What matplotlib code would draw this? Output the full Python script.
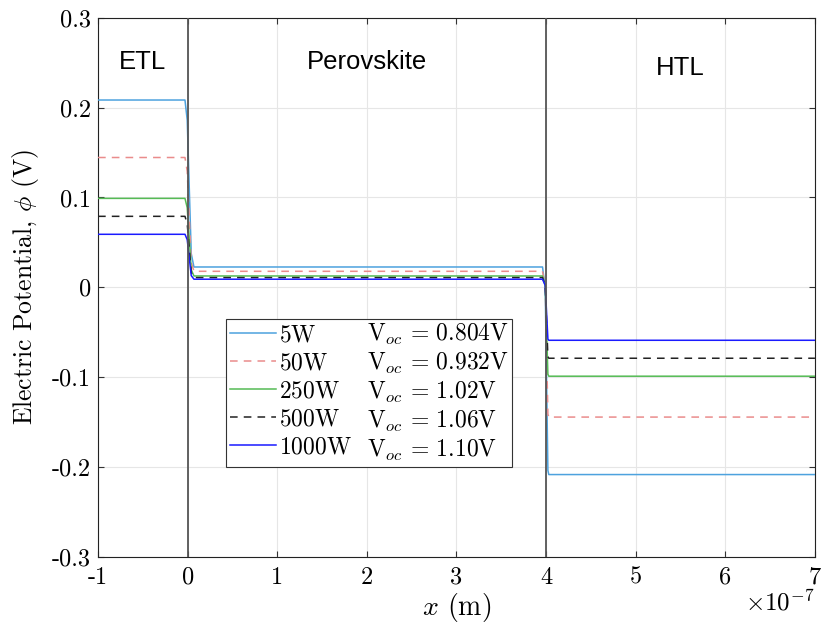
import numpy as np
import matplotlib
matplotlib.use("Agg")
import matplotlib.pyplot as plt
from matplotlib.lines import Line2D

plt.rcParams['mathtext.fontset'] = 'cm'
plt.rcParams['axes.unicode_minus'] = False

# Irradiance cases and plateau potentials (V) in each layer
powers = ["5W", "50W", "250W", "500W", "1000W"]
voc_labels = ["0.804", "0.932", "1.02", "1.06", "1.10"]
phi_etl = [0.2085, 0.1445, 0.0990, 0.0790, 0.0590]
phi_pvk = [0.0226, 0.0178, 0.0126, 0.0108, 0.0090]
phi_htl = [-0.2085, -0.1445, -0.0990, -0.0790, -0.0590]

# Layer boundaries (units of 1e-7 m)
x_min, x_etl_pvk, x_pvk_htl, x_max = -1.0, 0.0, 4.0, 7.0

colors = ["#4da2de", "#ea8c8c", "#55bb55", "#222222", "#1a1aff"]
styles = ["-", (0, (5, 4)), "-", (0, (5, 4)), "-"]

fig = plt.figure(figsize=(8.24, 6.37), dpi=100)
ax = fig.add_axes([0.119, 0.126, 0.870, 0.846])

for i in range(len(powers)):
    xs = [x_min, x_etl_pvk - 0.03, x_etl_pvk - 0.005, x_etl_pvk + 0.04,
          x_etl_pvk + 0.07, x_pvk_htl - 0.04, x_pvk_htl - 0.01,
          x_pvk_htl + 0.02, x_pvk_htl + 0.03, x_max]
    a, b, c = phi_etl[i], phi_pvk[i], phi_htl[i]
    ys = [a, a, a - 0.12 * (a - b), b + 0.08 * (a - b), b,
          b, b - 0.1 * (b - c), c + 0.02 * (b - c), c, c]
    ax.plot(xs, ys, color=colors[i], linestyle=styles[i], lw=1.1, zorder=3)

ax.axvline(x_etl_pvk, color="#555555", lw=1.3, zorder=4)
ax.axvline(x_pvk_htl, color="#555555", lw=1.3, zorder=4)

ax.set_xlim(-1, 7)
ax.set_ylim(-0.3, 0.3)
xt = np.arange(-1, 8)
yt = np.round(np.arange(-0.3, 0.31, 0.1), 1)
ax.set_xticks(xt)
ax.set_yticks(yt)
ax.set_xticklabels([f"{v:d}" for v in xt], fontfamily="cmr10", fontsize=17.5)
ax.set_yticklabels(["0" if v == 0 else f"{v:.1f}" for v in yt],
                   fontfamily="cmr10", fontsize=17.5)
ax.grid(True, color="#e6e6e6", lw=0.8, zorder=0)
ax.tick_params(direction="in", length=4, width=0.8, color="#333333",
               top=True, right=True)
ax.tick_params(axis="x", pad=7)
ax.tick_params(axis="y", pad=5)
for s in ax.spines.values():
    s.set_color("#222222")
    s.set_linewidth(0.8)

ax.set_ylabel(r"Electric Potential, $\phi$ (V)", fontfamily="cmr10",
              fontsize=18.5, labelpad=8)
ax.set_xlabel(r"$x$ (m)", fontfamily="cmr10", fontsize=20, labelpad=2)
ax.text(1.0, -0.06, r"$\times10^{-7}$", transform=ax.transAxes,
        ha="right", va="top", fontsize=18)

ax.text(-0.5, 0.251, "ETL", fontfamily="Liberation Sans", fontsize=18.5,
        ha="center", va="center")
ax.text(2.0, 0.251, "Perovskite", fontfamily="Liberation Sans", fontsize=18.5,
        ha="center", va="center")
ax.text(5.5, 0.244, "HTL", fontfamily="Liberation Sans", fontsize=18.5,
        ha="center", va="center")

# Two-column legend: line + power, then open-circuit voltage
handles = [Line2D([], [], color=colors[i], linestyle=styles[i], lw=1.1)
           for i in range(len(powers))]
blank = [Line2D([], [], color="none") for _ in powers]
labels = [r"$\mathrm{" + p + "}$" for p in powers] + \
         [r"$\mathrm{V}_{oc}\, =\, " + v + r"\mathrm{V}$" for v in voc_labels]
leg = ax.legend(handles + blank, labels, ncol=2, loc="upper left",
                bbox_to_anchor=(0.1785, 0.4416), fontsize=17,
                handlelength=1.95, handletextpad=0.13,
                columnspacing=-1.44, labelspacing=0.17,
                borderpad=0.15, borderaxespad=0.0, frameon=True,
                fancybox=False, edgecolor="#333333", framealpha=1.0)
leg.get_frame().set_linewidth(0.8)

fig.savefig("out.png", dpi=100)
